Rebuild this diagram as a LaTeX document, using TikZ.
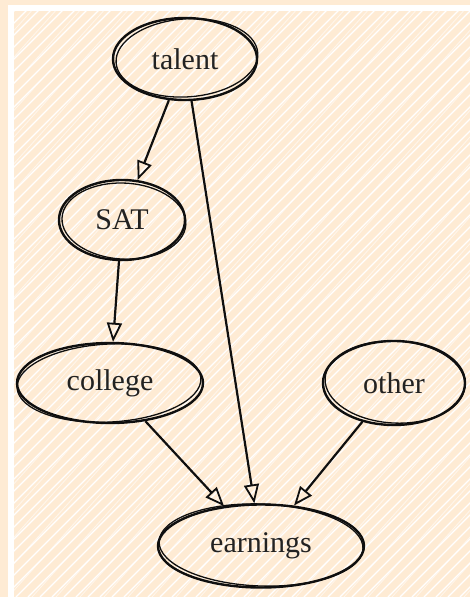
\documentclass[tikz,border=0pt]{standalone}
\usepackage{fontspec}
\setmainfont{Liberation Serif}
\usetikzlibrary{shapes.geometric,arrows.meta}
\definecolor{peach}{RGB}{254,235,212}
\definecolor{ink}{RGB}{15,15,15}
\tikzset{
  vnode/.style={ellipse, draw=ink, line width=2.4pt, inner sep=0pt, font=\fontsize{30}{34}\selectfont, text=ink!92},
  sketch/.style={draw=ink, line width=1.3pt},
  edge/.style={draw=ink, line width=2.2pt, -{Triangle[open, length=19pt, width=15pt, line width=1.8pt]}, shorten >=0pt},
  hatch/.style={white, line width=1.3pt},
  hatchb/.style={white, line width=0.8pt, opacity=0.6}
}
\begin{document}
\begin{tikzpicture}[x=1pt,y=-1pt]
\useasboundingbox (0,0) rectangle (470,597);
\fill[peach] (0,0) rectangle (470,597);
\fill[white] (8,5) rectangle (470,11);
\fill[white] (8,5) rectangle (14,597);
\begin{scope}
  \clip (14,11) rectangle (470,597);
  \foreach \i in {-620,-608,...,480} \draw[hatch] (\i,597) -- ++(600,-600);
  \foreach \i in {-640,-616,...,480} \draw[hatchb] (\i,597) -- ++(540,-600);
\end{scope}

\node[vnode, minimum width=144pt, minimum height=82pt] (talent) at (185,59) {talent};
\node[vnode, minimum width=126pt, minimum height=80pt] (sat) at (122,220) {SAT};
\node[vnode, minimum width=186pt, minimum height=80pt] (college) at (110,383) {college};
\node[vnode, minimum width=142pt, minimum height=84pt] (other) at (394,383) {other};
\node[vnode, minimum width=206pt, minimum height=83pt] (earnings) at (261,546) {earnings};

% second, hand-drawn strokes
\draw[sketch, rotate around={4:(talent.center)}] ([shift={(2,-1)}]talent.center) ellipse (71pt and 39pt);
\draw[sketch, rotate around={-3:(sat.center)}] ([shift={(2,1)}]sat.center) ellipse (62pt and 38pt);
\draw[sketch, rotate around={3:(college.center)}] ([shift={(-1,0)}]college.center) ellipse (92pt and 39pt);
\draw[sketch, rotate around={-3:(other.center)}] ([shift={(1,-1)}]other.center) ellipse (70pt and 41pt);
\draw[sketch, rotate around={-2:(earnings.center)}] ([shift={(0,-1)}]earnings.center) ellipse (102pt and 41pt);

\draw[edge] (talent) -- (sat);
\draw[edge] (talent) -- (earnings);
\draw[edge] (sat) -- (college);
\draw[edge] (college) -- (earnings);
\draw[edge] (other) -- (earnings);
\end{tikzpicture}
\end{document}
